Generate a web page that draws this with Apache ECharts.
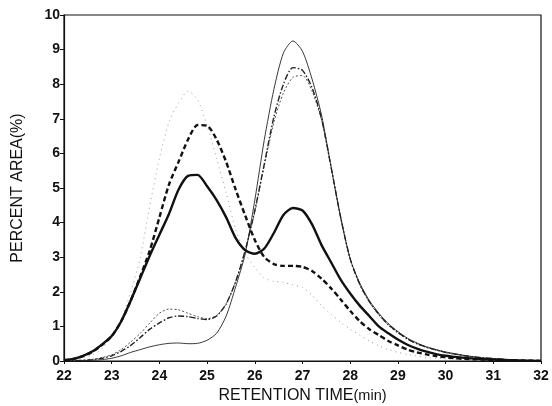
<!DOCTYPE html>
<html><head><meta charset="utf-8">
<script src="https://cdn.jsdelivr.net/npm/echarts@6/dist/echarts.min.js"></script>
<style>html,body{margin:0;padding:0;background:#fff}#c{width:552px;height:406px}</style>
</head><body><div id="c"></div>
<script>
const times = [22.0,22.2,22.4,22.6,22.8,23.0,23.2,23.4,23.6,23.8,24.0,24.2,24.4,24.6,24.8,25.0,25.2,25.4,25.6,25.8,26.0,26.2,26.4,26.6,26.8,27.0,27.2,27.4,27.6,27.8,28.0,28.2,28.4,28.6,28.8,29.0,29.2,29.4,29.6,29.8,30.0,30.2,30.4,30.6,30.8,31.0,31.2,31.4,31.6,31.8,32.0];
const xTicks = [22,23,24,25,26,27,28,29,30,31,32];
const yTicks = [0,1,2,3,4,5,6,7,8,9,10];
// thin solid
const seriesA = [0,0,0.01,0.02,0.04,0.08,0.15,0.25,0.33,0.41,0.47,0.51,0.52,0.5,0.51,0.6,0.8,1.3,2.15,3.1,4.65,6.4,7.85,8.9,9.25,8.95,8.15,7.1,5.6,4.15,2.95,2.25,1.75,1.38,1.08,0.85,0.66,0.52,0.41,0.33,0.26,0.21,0.16,0.12,0.09,0.07,0.05,0.04,0.02,0.01,0];
// dash-dot
const seriesB = [0,0.01,0.02,0.04,0.08,0.15,0.28,0.45,0.68,0.92,1.1,1.25,1.3,1.28,1.23,1.2,1.3,1.65,2.3,3.2,4.35,5.7,7.05,8.0,8.48,8.4,7.9,7.0,5.6,4.15,2.95,2.22,1.72,1.35,1.05,0.83,0.64,0.5,0.4,0.32,0.25,0.2,0.15,0.12,0.09,0.07,0.05,0.03,0.02,0.01,0];
// thin dotted
const seriesC = [0,0.01,0.02,0.05,0.1,0.18,0.33,0.55,0.8,1.1,1.38,1.5,1.48,1.38,1.28,1.22,1.32,1.65,2.3,3.2,4.3,5.65,6.9,7.75,8.2,8.25,7.8,6.95,5.6,4.15,2.95,2.2,1.7,1.33,1.03,0.81,0.63,0.49,0.39,0.31,0.24,0.19,0.15,0.11,0.08,0.06,0.05,0.03,0.02,0.01,0];
// thick solid
const seriesD = [0.02,0.06,0.15,0.28,0.48,0.72,1.15,1.75,2.4,3.05,3.65,4.25,4.95,5.35,5.38,5.05,4.65,4.15,3.55,3.2,3.1,3.25,3.7,4.22,4.42,4.35,3.95,3.35,2.85,2.35,1.95,1.6,1.3,1.0,0.8,0.62,0.47,0.36,0.27,0.2,0.15,0.12,0.09,0.07,0.05,0.04,0.03,0.02,0.01,0.01,0];
// thick dashed
const seriesE = [0.02,0.06,0.14,0.27,0.47,0.72,1.15,1.75,2.45,3.2,4.15,5.1,5.75,6.4,6.82,6.8,6.4,5.75,4.95,4.2,3.5,3.0,2.8,2.75,2.75,2.72,2.6,2.38,2.1,1.78,1.45,1.15,0.92,0.75,0.58,0.45,0.33,0.25,0.19,0.14,0.11,0.08,0.06,0.05,0.04,0.03,0.02,0.02,0.01,0.01,0];
// light dotted
const seriesF = [0.02,0.05,0.1,0.18,0.35,0.7,1.2,2.0,3.0,4.5,5.85,6.9,7.45,7.8,7.55,6.8,5.85,4.85,3.8,3.1,2.7,2.4,2.3,2.27,2.2,2.12,1.9,1.6,1.35,1.12,0.92,0.75,0.58,0.44,0.33,0.25,0.19,0.14,0.1,0.08,0.06,0.05,0.04,0.03,0.02,0.02,0.01,0.01,0.01,0,0];

const pair = arr => times.map((t,i)=>[t,arr[i]]);
const font = 'Liberation Sans';
const chart = echarts.init(document.getElementById('c'), null, {renderer:'canvas'});
function mk(data, color, width, type){
  return {type:'line', data: pair(data), showSymbol:false, smooth:0.25,
    lineStyle:{color:color, width:width, type:type}, z: 2, silent:true, animation:false};
}
chart.setOption({
  animation:false,
  grid:{left:64, right:11, top:15, bottom:45, outerBoundsMode:'none', containLabel:false, show:true, borderColor:'#111', borderWidth:1.2},
  xAxis:{type:'value', min:xTicks[0], max:xTicks[xTicks.length-1], interval:1,
    axisLine:{show:true, onZero:false, lineStyle:{color:'#111', width:1.2}},
    axisTick:{show:true, length:3, lineStyle:{color:'#111'}},
    splitLine:{show:false},
    axisLabel:{color:'#111', fontFamily:font, fontSize:14, fontWeight:'bold', margin:8},
    name:'{a|RETENTION TIME}{b|(min)}', nameLocation:'middle', nameGap:27,
    nameTextStyle:{rich:{a:{fontFamily:font, fontSize:16, color:'#111'}, b:{fontFamily:font, fontSize:14.5, color:'#111'}}}
  },
  yAxis:{type:'value', min:yTicks[0], max:yTicks[yTicks.length-1], interval:1,
    axisLine:{show:true, lineStyle:{color:'#111', width:1.2}},
    axisTick:{show:true, length:4, lineStyle:{color:'#111'}},
    splitLine:{show:false},
    axisLabel:{color:'#111', fontFamily:font, fontSize:14, fontWeight:'bold', margin:4},
    name:'PERCENT AREA(%)', nameLocation:'middle', nameGap:38, nameRotate:90,
    nameTextStyle:{fontFamily:font, fontSize:16, color:'#111'}
  },
  series:[
    mk(seriesF, '#9a9a9a', 1, [1,4]),
    mk(seriesC, '#555', 1, [2,2]),
    mk(seriesB, '#222', 1.4, [6,2,1.5,2]),
    mk(seriesA, '#222', 0.9, 'solid'),
    mk(seriesE, '#111', 2.4, [5,3]),
    mk(seriesD, '#111', 2.4, 'solid')
  ]
});
</script></body></html>
